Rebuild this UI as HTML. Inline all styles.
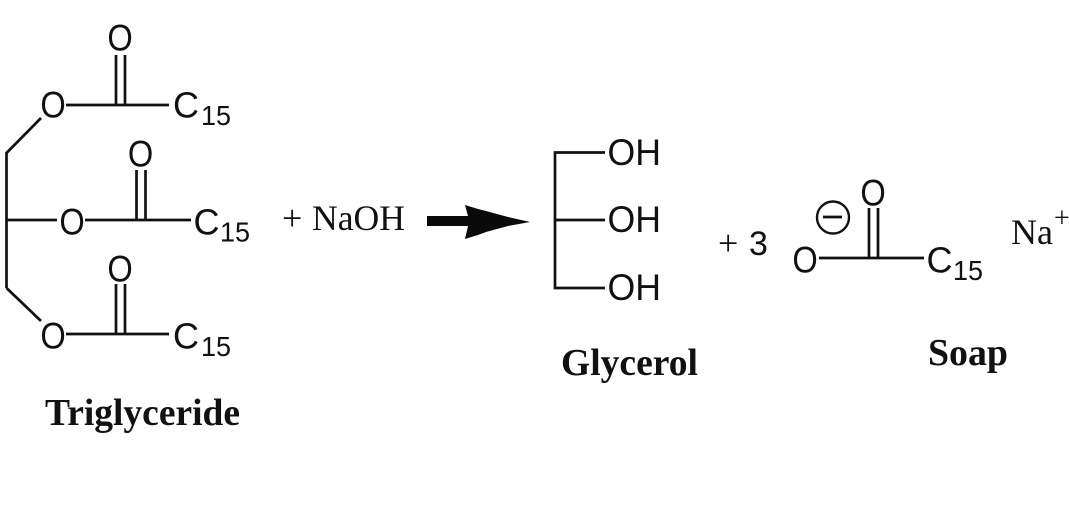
<!DOCTYPE html>
<html><head><meta charset="utf-8">
<style>html,body{margin:0;padding:0;background:#fefefe;width:1069px;height:513px;overflow:hidden}svg{display:block;filter:blur(0.35px)}</style>
</head><body>
<svg width="1069" height="513" viewBox="0 0 1069 513" xmlns="http://www.w3.org/2000/svg">
<g fill="none" stroke="#111" stroke-width="2.7">
<path d="M6.500 152V288"/>
<path d="M6.500 153L41 118"/>
<path d="M6.500 220H57"/>
<path d="M6.500 288L41 321"/>
<path d="M66 105H169"/>
<path d="M85 220H191"/>
<path d="M66 334H169"/>
<path d="M116 55V105M125 55V105"/>
<path d="M136.500 170V220M145.500 170V220"/>
<path d="M116 284V334M125 284V334"/>
<path d="M605 152.500H555V288H605"/>
<path d="M555 220H605"/>
<path d="M819 258H924"/>
<path d="M869 208V258M878 208V258"/>
<circle cx="833" cy="217.500" r="16" stroke-width="2.400"/>
<path d="M823 217H842"/>
</g>
<path d="M427 216H468L465 205L478 209L486 211L497 214L508 217L530 222L508 226L497 229L486 232L478 235L465 239L468 226H427Z" fill="#0a0a0a"/>
<g font-family="Liberation Sans, sans-serif" fill="#111" font-size="37">
<text x="40.400" y="117.500" textLength="25.400" lengthAdjust="spacingAndGlyphs">O</text>
<text x="59.400" y="234.500" textLength="25.400" lengthAdjust="spacingAndGlyphs">O</text>
<text x="40.400" y="348.500" textLength="25.400" lengthAdjust="spacingAndGlyphs">O</text>
<text x="107.400" y="50.500" textLength="25.400" lengthAdjust="spacingAndGlyphs">O</text>
<text x="127.900" y="166.500" textLength="25.400" lengthAdjust="spacingAndGlyphs">O</text>
<text x="107.400" y="281.500" textLength="25.400" lengthAdjust="spacingAndGlyphs">O</text>
<text x="860.400" y="205.500" textLength="25.400" lengthAdjust="spacingAndGlyphs">O</text>
<text x="792.400" y="272.500" textLength="25.400" lengthAdjust="spacingAndGlyphs">O</text>
<text x="607.500" y="165" textLength="53.500" lengthAdjust="spacingAndGlyphs">OH</text>
<text x="607.500" y="232" textLength="53.500" lengthAdjust="spacingAndGlyphs">OH</text>
<text x="607.500" y="300" textLength="53.500" lengthAdjust="spacingAndGlyphs">OH</text>
</g>
<g font-family="Liberation Sans, sans-serif" fill="#111">
<text x="173" y="117.500" font-size="36">C</text><text x="201" y="125" font-size="28" textLength="30" lengthAdjust="spacingAndGlyphs">15</text>
<text x="193.500" y="234.500" font-size="36">C</text><text x="220" y="241.500" font-size="28" textLength="30" lengthAdjust="spacingAndGlyphs">15</text>
<text x="173" y="348.500" font-size="36">C</text><text x="201" y="356" font-size="28" textLength="30" lengthAdjust="spacingAndGlyphs">15</text>
<text x="926.500" y="272.500" font-size="36">C</text><text x="953" y="280" font-size="28" textLength="30" lengthAdjust="spacingAndGlyphs">15</text>
<text x="749" y="255" font-size="34">3</text>
</g>
<g font-family="Liberation Serif, serif" fill="#111">
<text x="282" y="230" font-size="36">+</text>
<text x="312" y="230" font-size="36" textLength="93" lengthAdjust="spacingAndGlyphs">NaOH</text>
<text x="718" y="255" font-size="36">+</text>
<text x="1011" y="244" font-size="36">Na</text>
<text x="1054" y="227" font-size="28">+</text>
</g>
<g font-family="Liberation Serif, serif" font-weight="bold" fill="#111" font-size="38">
<text x="45" y="425" textLength="195" lengthAdjust="spacingAndGlyphs">Triglyceride</text>
<text x="561" y="375" textLength="137" lengthAdjust="spacingAndGlyphs">Glycerol</text>
<text x="928" y="365" textLength="80" lengthAdjust="spacingAndGlyphs">Soap</text>
</g>
</svg>
</body></html>
